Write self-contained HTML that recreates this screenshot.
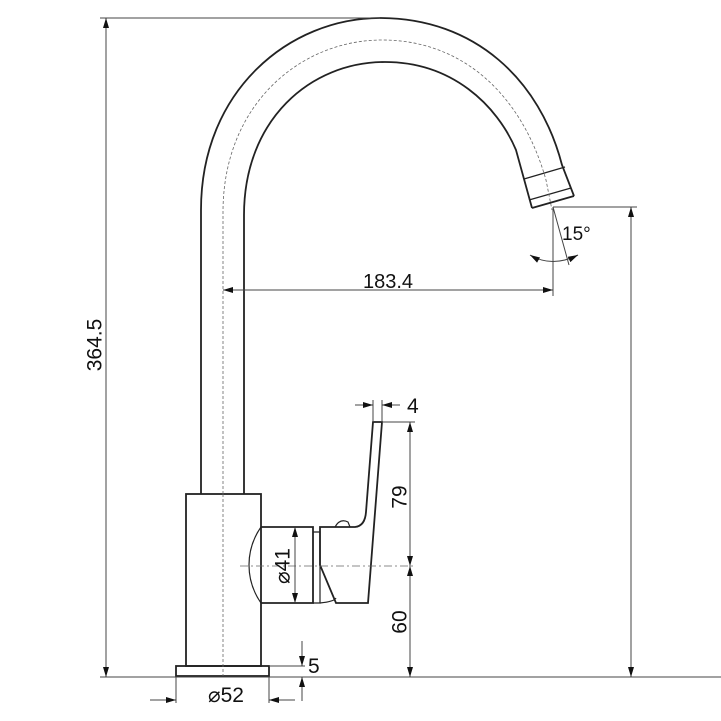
<!DOCTYPE html>
<html><head><meta charset="utf-8"><style>
html,body{margin:0;padding:0;background:#fff}
svg{display:block}
text{font-family:"Liberation Sans",Arial,sans-serif;fill:#111}
</style></head><body>
<svg width="721" height="721" viewBox="0 0 721 721" xmlns="http://www.w3.org/2000/svg">
<defs>
<marker id="a" viewBox="0 0 10 6" refX="10" refY="3" markerWidth="10" markerHeight="6" orient="auto-start-reverse" markerUnits="userSpaceOnUse"><path d="M0,0 L10,3 L0,6 Z" fill="#111"/></marker>
</defs>
<g fill="none" stroke="#222" stroke-width="1.8">
<path d="M201,494 L201,210 C201,90 290,18 380,18 C475,18 540,80 562,165 L574,196"/>
<path d="M244,494 L244,215 C244,120 310,62 385,62 C452,62 497,105 516,150 L532,208"/>
<path d="M532,208 L574,196" stroke-width="1.8"/>
<path d="M524,179 L565,167" stroke-width="1.2"/>
<path d="M529,200 L571,188" stroke-width="1.2"/>
<rect x="186" y="494" width="75" height="172"/>
<rect x="176" y="666" width="93" height="10"/>
<path d="M261,527 L313,527 L313,603 L261,603"/>
<path d="M261,527 C245,550 245,580 261,603" stroke-width="1.2"/>
<path d="M313,532 L320,532 L320,603 L313,603" stroke-width="1.2"/>
<path d="M320,603 C330,602 335,600 336,598" stroke-width="1.2"/>
<path d="M320,527 L355,527 Q365,526 366,512 L373,422 L382,422 L368,603 L336,603 L320,565 Z"/>
<path d="M335,527 Q340,518 348,522 L350,527" stroke-width="1.2"/>
</g>
<g fill="none" stroke="#666" stroke-width="0.8" stroke-dasharray="3,2">
<path d="M223,494 L223,212 C223,105 300,40 382,40 C463,40 522,95 546,180 L552,210"/>
<line x1="223" y1="494" x2="223" y2="676"/>
<line x1="240" y1="566" x2="415" y2="566" stroke-dasharray="8,3,2,3"/>
</g>
<g fill="none" stroke="#444" stroke-width="1">
<line x1="100" y1="18" x2="380" y2="18"/>
<line x1="100" y1="677" x2="721" y2="677"/>
<line x1="106" y1="18" x2="106" y2="677" marker-start="url(#a)" marker-end="url(#a)"/>
<line x1="223" y1="290" x2="553" y2="290" marker-start="url(#a)" marker-end="url(#a)"/>
<line x1="553" y1="207" x2="553" y2="296"/>
<line x1="553" y1="207" x2="637" y2="207"/>
<line x1="631" y1="207" x2="631" y2="677" marker-start="url(#a)" marker-end="url(#a)"/>
<line x1="553" y1="207" x2="569" y2="265"/>
<path d="M530,255 Q552,268 578,255" marker-start="url(#a)" marker-end="url(#a)"/>
<line x1="382" y1="422" x2="415" y2="422"/>
<line x1="410" y1="422" x2="410" y2="566" marker-start="url(#a)" marker-end="url(#a)"/>
<line x1="410" y1="566" x2="410" y2="677" marker-start="url(#a)" marker-end="url(#a)"/>
<line x1="373" y1="400" x2="373" y2="422"/>
<line x1="382" y1="400" x2="382" y2="422"/>
<line x1="355" y1="405" x2="373" y2="405" marker-end="url(#a)"/>
<line x1="400" y1="405" x2="382" y2="405" marker-end="url(#a)"/>
<line x1="295" y1="527" x2="295" y2="603" marker-start="url(#a)" marker-end="url(#a)"/>
<line x1="269" y1="666" x2="305" y2="666"/>
<line x1="302" y1="641" x2="302" y2="666" marker-end="url(#a)"/>
<line x1="302" y1="701" x2="302" y2="677" marker-end="url(#a)"/>
<line x1="176" y1="677" x2="176" y2="703"/>
<line x1="269" y1="677" x2="269" y2="703"/>
<line x1="150" y1="700" x2="176" y2="700" marker-end="url(#a)"/>
<line x1="295" y1="700" x2="269" y2="700" marker-end="url(#a)"/>
</g>
<text x="95" y="345" font-size="21" text-anchor="middle" transform="rotate(-90 95 345)" dominant-baseline="central">364.5</text>
<text x="388" y="288" font-size="20" text-anchor="middle">183.4</text>
<text x="562" y="240" font-size="19">15°</text>
<text x="407" y="413" font-size="21">4</text>
<text x="400" y="497" font-size="21" text-anchor="middle" transform="rotate(-90 400 497)" dominant-baseline="central">79</text>
<text x="400" y="622" font-size="21" text-anchor="middle" transform="rotate(-90 400 622)" dominant-baseline="central">60</text>
<text x="283" y="566" font-size="21" text-anchor="middle" transform="rotate(-90 283 566)" dominant-baseline="central">⌀41</text>
<text x="308" y="673" font-size="21">5</text>
<text x="226" y="702" font-size="21" text-anchor="middle">⌀52</text>
</svg>
</body></html>
